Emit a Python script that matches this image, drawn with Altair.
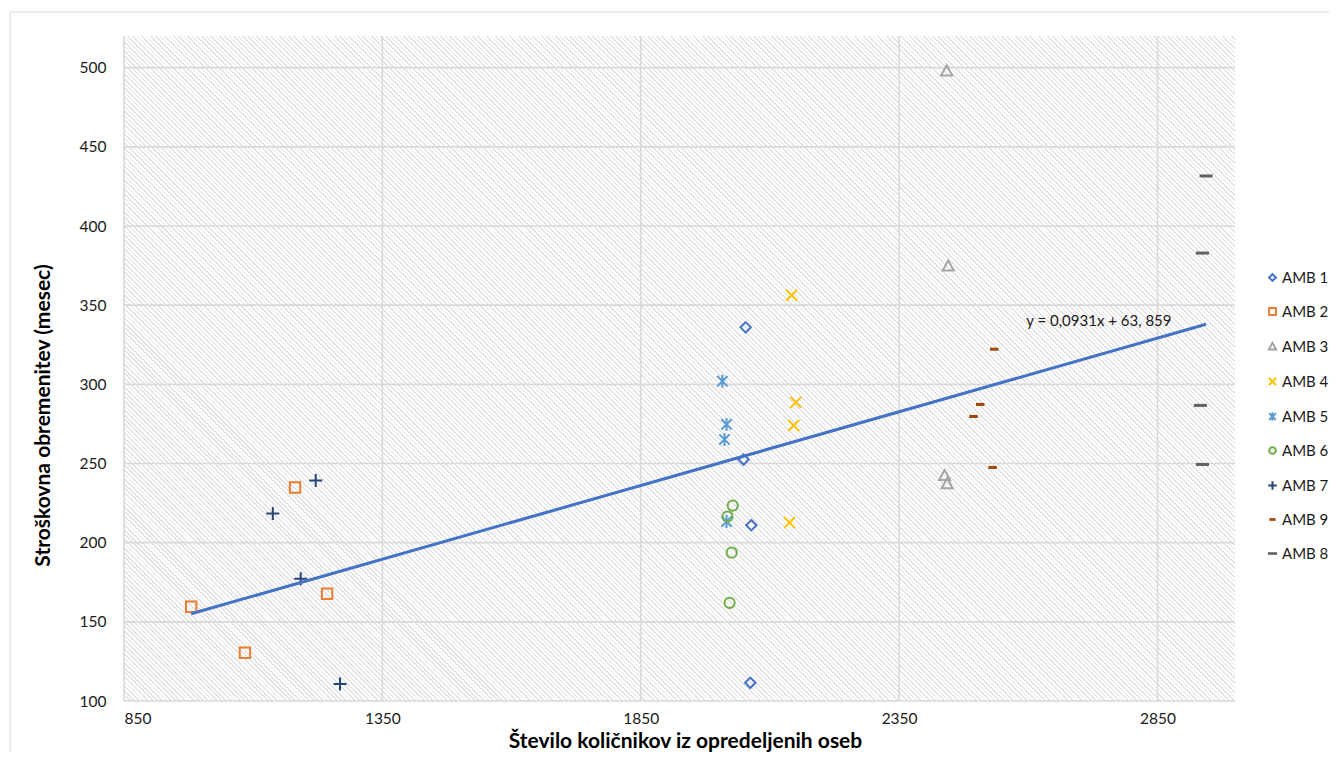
import altair as alt
import pandas as pd

FONT = "Lato"

# Series order as shown in the legend
series = ["AMB 1", "AMB 2", "AMB 3", "AMB 4", "AMB 5", "AMB 6", "AMB 7", "AMB 9", "AMB 8"]

amb1_x = [2053, 2049, 2064, 2062]
amb1_y = [336, 252.5, 211, 111.5]
amb2_x = [980, 1084, 1181, 1243]
amb2_y = [159.5, 130.5, 234.8, 167.7]
amb3_x = [2442, 2445, 2438, 2443]
amb3_y = [498, 374.7, 242.4, 237.3]
amb4_x = [2142, 2150, 2146, 2138]
amb4_y = [356.3, 288.6, 274, 212.7]
amb5_x = [2008, 2016, 2012, 2016]
amb5_y = [302, 274.7, 265.2, 213.3]
amb6_x = [2028, 2018, 2026, 2022]
amb6_y = [223.4, 216.5, 193.7, 162]
amb7_x = [1221, 1138, 1192, 1268]
amb7_y = [239.2, 218.4, 177.2, 110.8]
amb9_x = [2534, 2507, 2494, 2531]
amb9_y = [322.2, 287.3, 279.7, 247.5]
amb8_x = [2944, 2937, 2933, 2937]
amb8_y = [431.6, 382.9, 286.7, 249.4]

series_x = [amb1_x, amb2_x, amb3_x, amb4_x, amb5_x, amb6_x, amb7_x, amb9_x, amb8_x]
series_y = [amb1_y, amb2_y, amb3_y, amb4_y, amb5_y, amb6_y, amb7_y, amb9_y, amb8_y]

colors = ["#4472C4", "#ED7D31", "#A5A5A5", "#FFC000", "#5B9BD5",
          "#70AD47", "#264478", "#9E480E", "#636363"]

shapes = [
    "M0,-0.8L0.8,0L0,0.8L-0.8,0Z",                         # diamond
    "M-0.8,-0.8L0.8,-0.8L0.8,0.8L-0.8,0.8Z",               # square
    "M0,-0.85L0.85,0.7L-0.85,0.7Z",                        # triangle
    "M-0.85,-0.85L0.85,0.85M-0.85,0.85L0.85,-0.85",        # x
    "M-0.8,-0.8L0.8,0.8M-0.8,0.8L0.8,-0.8M0,-1L0,1",       # asterisk
    "M0.78,0A0.78,0.78 0 1,1 -0.78,0A0.78,0.78 0 1,1 0.78,0Z",  # circle
    "M-1,0L1,0M0,-1L0,1",                                  # plus
    "M-0.5,-0.08L0.5,-0.08L0.5,0.08L-0.5,0.08Z",           # short dash
    "M-0.85,-0.08L0.85,-0.08L0.85,0.08L-0.85,0.08Z",       # dash
]

# Trendline (Excel linear fit shown in the label)
slope = 0.0931
intercept = 63.859
trend_label = "y = 0,0931x + 63, 859"
label_x = [2596]
label_y = [340]

x_ticks = [850, 1350, 1850, 2350, 2850]
y_ticks = [100, 150, 200, 250, 300, 350, 400, 450, 500]

rows = []
for name, xs, ys in zip(series, series_x, series_y):
    for xv, yv in zip(xs, ys):
        rows.append({"series": name, "x": xv, "y": yv})
df = pd.DataFrame(rows)

all_x = [v for xs in series_x for v in xs]
trend_df = pd.DataFrame({"x": [min(all_x), max(all_x)]})
label_df = pd.DataFrame({"x": label_x, "y": label_y, "t": [trend_label]})

xscale = alt.Scale(domain=[850, 3000], nice=False, zero=False)
yscale = alt.Scale(domain=[100, 520], nice=False, zero=False)

xaxis = alt.Axis(values=x_ticks, title="Število količnikov iz opredeljenih oseb",
                 labelPadding=10, format="d", grid=False,
                 titleFontSize=21, titleBaseline="alphabetic", titleY=46, titleX=561)
yaxis = alt.Axis(values=y_ticks, title="Stroškovna obremenitev (mesec)",
                 labelPadding=18, titlePadding=26, format="d", grid=False,
                 titleFontSize=21, titleY=379)

W, H = 1111, 665

# ---- decorative hatch pattern (diagonal stripes) for the plot background ----
S = W  # square box so the stripes run at 45 degrees
period_px = 4.6
n_periods = int(round(2 * S / period_px))
stops = []
for k in range(n_periods):
    a = k / n_periods
    b = (k + 0.64) / n_periods
    c = (k + 1) / n_periods
    stops += [{"offset": a, "color": "#ffffff"}, {"offset": b, "color": "#ffffff"},
              {"offset": b, "color": "#e2e2e2"}, {"offset": c, "color": "#e2e2e2"}]
hatch_fill = {"gradient": "linear", "x1": 0, "y1": 1, "x2": 1, "y2": 0, "stops": stops}

one = pd.DataFrame({"a": [0]})

border = alt.Chart(one).mark_rect(
    fill=None, stroke="#d9d9d9", strokeWidth=1
).encode(
    x=alt.value(-114), x2=alt.value(1230), y=alt.value(-24), y2=alt.value(760)
)

hatch = alt.Chart(one).mark_rect(clip=True, fill=hatch_fill).encode(
    x=alt.value(0), x2=alt.value(W),
    y=alt.value(-(S - H) / 2), y2=alt.value(H + (S - H) / 2),
)

xgrid = alt.Chart(pd.DataFrame({"v": x_ticks})).mark_rule(
    color="#d9d9d9", strokeWidth=1.6
).encode(x=alt.X("v:Q", scale=xscale))
ygrid = alt.Chart(pd.DataFrame({"v": y_ticks})).mark_rule(
    color="#d9d9d9", strokeWidth=1.6
).encode(y=alt.Y("v:Q", scale=yscale))

points = alt.Chart(df).mark_point(filled=False, size=169, strokeWidth=2, opacity=1).encode(
    x=alt.X("x:Q", scale=xscale, axis=xaxis),
    y=alt.Y("y:Q", scale=yscale, axis=yaxis),
    stroke=alt.Stroke("series:N", scale=alt.Scale(domain=series, range=colors),
                      legend=alt.Legend(title=None)),
    shape=alt.Shape("series:N", scale=alt.Scale(domain=series, range=shapes),
                    legend=alt.Legend(title=None)),
)

trend = alt.Chart(trend_df).transform_calculate(
    y=f"datum.x * {slope} + {intercept}"
).mark_line(color="#4472C4", strokeWidth=3).encode(
    x=alt.X("x:Q", scale=xscale),
    y=alt.Y("y:Q", scale=yscale),
)

label = alt.Chart(label_df).mark_text(
    align="left", baseline="middle", font=FONT, fontSize=15, color="#1a1a1a"
).encode(
    x=alt.X("x:Q", scale=xscale),
    y=alt.Y("y:Q", scale=yscale),
    text="t:N",
)

chart = alt.layer(border, hatch, xgrid, ygrid, points, trend, label).properties(
    width=W, height=H,
    autosize=alt.AutoSizeParams(type="none"),
    padding={"left": 116, "top": 28, "right": 94, "bottom": 51},
).configure_view(
    fill="#ffffff", stroke=None
).configure_axis(
    domain=False, ticks=False,
    labelFont=FONT, labelFontSize=15.5, labelColor="#1a1a1a",
    titleFont=FONT, titleFontWeight="bold", titleColor="#000000",
).configure_legend(
    orient="none", legendX=1141, legendY=234, padding=0,
    labelFont=FONT, labelFontSize=15, labelColor="#1a1a1a",
    symbolSize=72, symbolStrokeWidth=2, symbolFillColor="transparent",
    rowPadding=18, labelOffset=2,
)

chart.save("out.html", embed_options={"renderer": "svg", "actions": False})
